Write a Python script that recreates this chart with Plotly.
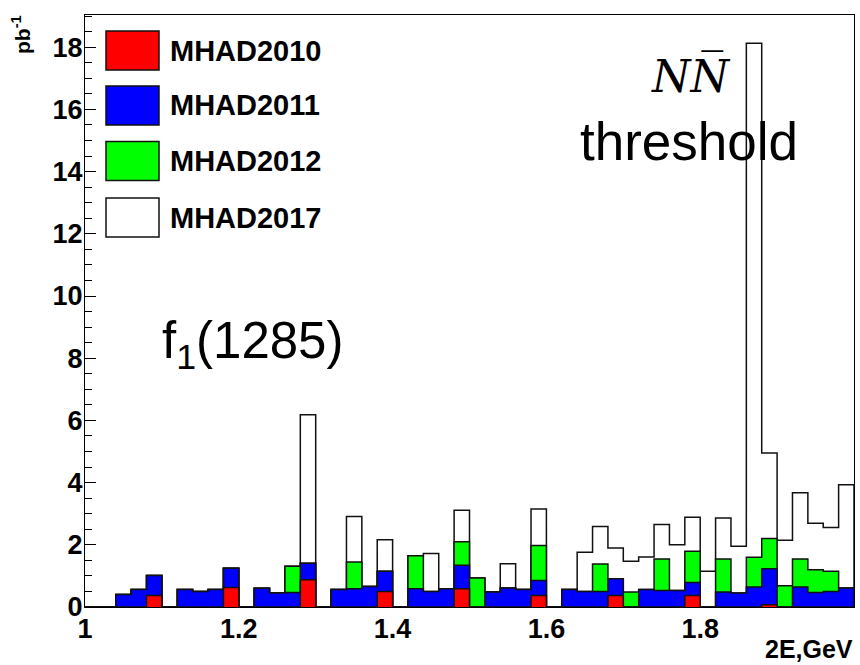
import numpy as np
import plotly.graph_objects as go

# ---- data (stacked histogram, 50 bins of 0.02 GeV from 1.0 to 2.0) ----
bin_lo = 1.0
bin_w = 0.02
n_bins = 50

mhad2010 = [0, 0, 0, 0, 0.37, 0, 0, 0, 0, 0.63,
            0, 0, 0, 0, 0.88, 0, 0, 0, 0, 0.50,
            0, 0, 0, 0, 0.59, 0, 0, 0, 0, 0.37,
            0, 0, 0, 0, 0.37, 0, 0, 0, 0, 0.37,
            0, 0, 0, 0, 0.07, 0, 0, 0, 0, 0]
mhad2011 = [0, 0, 0.40, 0.56, 0.64, 0, 0.56, 0.50, 0.56, 0.62,
            0, 0.60, 0.45, 0.47, 0.53, 0, 0.56, 0.59, 0.66, 0.65,
            0, 0.59, 0.50, 0.59, 0.75, 0, 0.48, 0.61, 0.56, 0.48,
            0, 0.56, 0.50, 0.50, 0.54, 0, 0.56, 0.53, 0.53, 0.42,
            0, 0.48, 0.45, 0.64, 1.16, 0, 0.64, 0.47, 0.50, 0.61]
mhad2012 = [0, 0, 0, 0, 0, 0, 0, 0, 0, 0,
            0, 0, 0, 0.84, 0, 0, 0, 0.86, 0, 0,
            0, 1.06, 0, 0, 0.76, 0.93, 0, 0, 0, 1.13,
            0, 0, 0, 0.88, 0, 0.48, 0, 1.01, 0, 1.00,
            0, 1.06, 0, 0.96, 0.97, 0.68, 0.90, 0.73, 0.65, 0]
mhad2017 = [0, 0, 0, 0, 0, 0, 0, 0, 0, 0,
            0, 0, 0, 0, 4.77, 0, 0, 1.46, 0, 1.01,
            0, 0, 1.22, 0, 1.01, 0, 0, 0.78, 0, 1.17,
            0, 0, 1.26, 1.21, 0.99, 0.99, 1.05, 1.11, 1.47, 1.10,
            1.15, 1.32, 1.50, 16.53, 2.75, 1.47, 2.13, 1.49, 1.41, 3.32]

series_names = ["MHAD2010", "MHAD2011", "MHAD2012", "MHAD2017"]
series_colors = ["#ff0000", "#0000ff", "#00ff00", "#ffffff"]

# ---- geometry of the plot frame (pixels) ----
W, H = 860, 665
PL, PR, PT, PB = 85, 854, 15, 607


def px(x):
    return (x - PL) / (PR - PL)


def py(y):
    return (PB - y) / (PB - PT)


edges = bin_lo + bin_w * np.arange(n_bins + 1)
cum = np.cumsum(np.array([mhad2010, mhad2011, mhad2012, mhad2017]), axis=0)
ymax = cum[-1].max() * 1.05

fig = go.Figure()
for i in [3, 2, 1, 0]:
    v = cum[i]
    xs = [edges[0]] + list(edges[:-1]) + [edges[-1], edges[-1]]
    ys = [0.0] + list(v) + [v[-1], 0.0]
    fig.add_trace(go.Scatter(
        x=xs, y=ys, mode="lines",
        line=dict(shape="hv", color="#111111", width=1.5),
        fill="tozeroy", fillcolor=series_colors[i],
        showlegend=False, hoverinfo="skip", name=series_names[i],
    ))

bold = dict(family="Liberation Sans, Arial, sans-serif", color="black", weight="bold")

fig.update_layout(
    width=W, height=H,
    margin=dict(l=PL, r=W - PR, t=PT, b=H - PB),
    plot_bgcolor="white", paper_bgcolor="white",
    showlegend=False,
)
fig.update_xaxes(
    range=[1.0, 2.0], tickmode="linear", tick0=1.0, dtick=0.2,
    ticks="", showgrid=False, zeroline=False,
    showline=True, linecolor="black", linewidth=1, mirror=True,
    tickfont=dict(size=27, **bold),
)
fig.update_yaxes(
    range=[0, ymax], tickmode="linear", tick0=0, dtick=2,
    ticks="inside", ticklen=11, tickcolor="black", tickwidth=1,
    minor=dict(dtick=0.5, ticks="inside", ticklen=7, tickcolor="black", tickwidth=1),
    showgrid=False, zeroline=False,
    showline=True, linecolor="black", linewidth=1, mirror=True,
    tickfont=dict(size=27, **bold),
)
try:
    fig.update_xaxes(ticklabelstandoff=-2)
except (ValueError, TypeError):
    pass
try:
    fig.update_yaxes(ticklabelstandoff=-4)
except (ValueError, TypeError):
    pass

# ---- legend (drawn manually, ROOT style) ----
leg_rows = [50.5, 105.5, 161, 217.5]
for name, color, yc in zip(series_names, series_colors, leg_rows):
    fig.add_shape(type="rect", xref="paper", yref="paper",
                  x0=px(106), x1=px(159), y0=py(yc + 19.5), y1=py(yc - 19.5),
                  fillcolor=color, line=dict(color="#111111", width=1.5))
    fig.add_annotation(text=name, xref="paper", yref="paper",
                       x=px(168), y=py(yc), xanchor="left", yanchor="middle",
                       showarrow=False, font=dict(size=29, **bold))

# ---- text labels ----
regular = dict(family="Liberation Sans, Arial, sans-serif", color="black")
fig.add_annotation(text="f<sub>1</sub>(1285)", xref="paper", yref="paper",
                   x=px(160), y=py(344), xanchor="left", yanchor="middle",
                   showarrow=False, font=dict(size=51, **regular))
fig.add_annotation(text="threshold", xref="paper", yref="paper",
                   x=px(578), y=py(141), xanchor="left", yanchor="middle",
                   showarrow=False, font=dict(size=53, **regular))
fig.add_annotation(text="<i>N</i><i>N\u0305</i>", xref="paper", yref="paper",
                   x=px(691), y=py(76), xanchor="center", yanchor="middle",
                   showarrow=False,
                   font=dict(size=44, family="DejaVu Serif, Liberation Serif, serif", color="black"))
fig.add_annotation(text="2E,GeV", xref="paper", yref="paper",
                   x=px(855), y=py(649), xanchor="right", yanchor="middle",
                   showarrow=False, font=dict(size=25, **bold))
fig.add_annotation(text="pb<sup>-1</sup>", xref="paper", yref="paper",
                   x=px(21), y=py(35), xanchor="center", yanchor="middle",
                   textangle=-90, showarrow=False, font=dict(size=21, **bold))

fig.write_html("out.html")
